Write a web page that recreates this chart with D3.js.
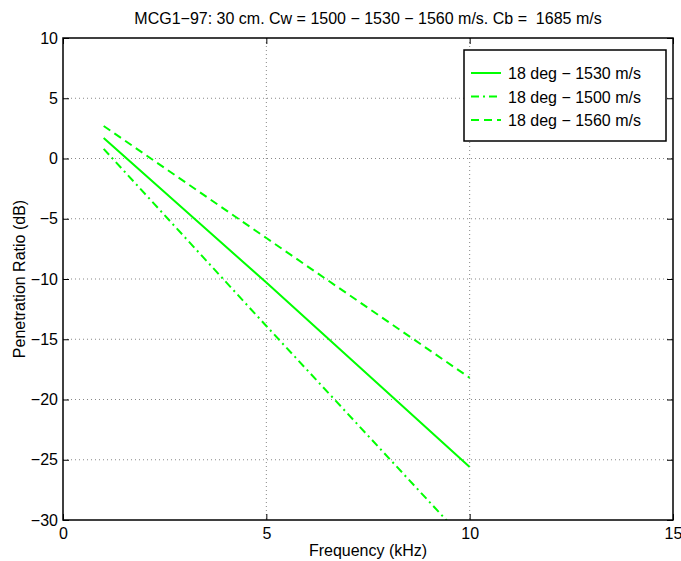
<!DOCTYPE html>
<html>
<head>
<meta charset="utf-8">
<script src="https://cdn.jsdelivr.net/npm/d3@7"></script>
<style>
  body { margin: 0; background: #fff; }
  svg text { font-family: "Liberation Sans", Arial, sans-serif; fill: #000; }
</style>
</head>
<body>
<div id="chart"></div>
<script>
(function () {

    var TITLE   = "MCG1\u221297: 30 cm. Cw = 1500 \u2212 1530 \u2212 1560 m/s. Cb =  1685 m/s";
    var X_LABEL = "Frequency (kHz)";
    var Y_LABEL = "Penetration Ratio (dB)";

    var X_TICKS = [0, 5, 10, 15];
    var Y_TICKS = [-30, -25, -20, -15, -10, -5, 0, 5, 10];

    // frequency (kHz) and penetration ratio (dB)
    var FREQ     = [1, 5, 10];
    var PR_1530  = [1.7, -10.3, -25.6];
    var PR_1500  = [0.8, -13.9, -32.1];
    var PR_1560  = [2.7, -6.6, -18.2];

    var SERIES = [
        { label: "18 deg \u2212 1530 m/s", values: PR_1530, dash: null },
        { label: "18 deg \u2212 1500 m/s", values: PR_1500, dash: "8,4,2,4" },
        { label: "18 deg \u2212 1560 m/s", values: PR_1560, dash: "8,5" }
    ];

    var W = 681, H = 561;
    var margin = { top: 38, right: 8, bottom: 41, left: 63 };
    var iW = W - margin.left - margin.right;
    var iH = H - margin.top - margin.bottom;

    var svg = d3.select("#chart").append("svg")
        .attr("width", W).attr("height", H);

    var g = svg.append("g")
        .attr("transform", "translate(" + margin.left + "," + margin.top + ")");

    var x = d3.scaleLinear().domain([0, 15]).range([0, iW]);
    var y = d3.scaleLinear().domain([-30, 10]).range([iH, 0]);

    g.append("defs").append("clipPath").attr("id", "clip")
        .append("rect").attr("width", iW).attr("height", iH);

    /* grid */
    var grid = g.append("g").attr("class", "grid");
    grid.selectAll(".gx").data(X_TICKS.slice(1, -1)).enter().append("line")
        .attr("x1", x).attr("x2", x).attr("y1", 0).attr("y2", iH);
    grid.selectAll(".gy").data(Y_TICKS.slice(1, -1)).enter().append("line")
        .attr("y1", y).attr("y2", y).attr("x1", 0).attr("x2", iW);
    grid.selectAll("line")
        .attr("stroke", "#888").attr("stroke-width", 1)
        .attr("stroke-dasharray", "1,3");

    /* lines */
    var line = d3.line()
        .x(function (d, i) { return x(FREQ[i]); })
        .y(function (d) { return y(d); });

    SERIES.forEach(function (s) {
        g.append("path")
            .attr("clip-path", "url(#clip)")
            .attr("d", line(s.values))
            .attr("fill", "none")
            .attr("stroke", "#00ff00")
            .attr("stroke-width", 2)
            .attr("stroke-dasharray", s.dash);
    });

    /* axes (box with inward ticks) */
    function styleAxis(sel) {
        sel.select(".domain").remove();
        sel.selectAll("line").attr("stroke", "#000");
        sel.selectAll("text").style("font-size", "16px");
    }
    g.append("g").attr("transform", "translate(0," + iH + ")")
        .call(d3.axisBottom(x).tickValues(X_TICKS).tickSize(-6).tickPadding(8))
        .call(styleAxis);
    g.append("g")
        .call(d3.axisTop(x).tickValues(X_TICKS).tickSize(-6).tickFormat(""))
        .call(styleAxis);
    g.append("g")
        .call(d3.axisLeft(y).tickValues(Y_TICKS).tickSize(-6).tickPadding(5)
            .tickFormat(function (v) { return String(v).replace("-", "\u2212"); }))
        .call(styleAxis);
    g.append("g").attr("transform", "translate(" + iW + ",0)")
        .call(d3.axisRight(y).tickValues(Y_TICKS).tickSize(-6).tickFormat(""))
        .call(styleAxis);

    g.append("rect")
        .attr("width", iW).attr("height", iH)
        .attr("fill", "none").attr("stroke", "#000").attr("stroke-width", 1.5);

    /* texts */
    svg.append("text")
        .attr("x", margin.left + iW / 2).attr("y", 24)
        .attr("text-anchor", "middle").style("font-size", "16px")
        .style("white-space", "pre")
        .text(TITLE);
    svg.append("text")
        .attr("x", margin.left + iW / 2).attr("y", 556)
        .attr("text-anchor", "middle").style("font-size", "16px")
        .text(X_LABEL);
    svg.append("text")
        .attr("transform", "translate(25," + (margin.top + iH / 2) + ") rotate(-90)")
        .attr("text-anchor", "middle").style("font-size", "16px")
        .text(Y_LABEL);

    /* legend */
    var lg = g.append("g").attr("transform", "translate(" + (464 - margin.left) + "," + (50 - margin.top) + ")");
    lg.append("rect")
        .attr("width", 202).attr("height", 91)
        .attr("fill", "#fff").attr("stroke", "#000").attr("stroke-width", 1.5);
    SERIES.forEach(function (s, i) {
        var ly = 23 + i * 23.5;
        lg.append("line")
            .attr("x1", 7).attr("x2", 37).attr("y1", ly).attr("y2", ly)
            .attr("stroke", "#00ff00").attr("stroke-width", 2)
            .attr("stroke-dasharray", s.dash);
        lg.append("text")
            .attr("x", 44).attr("y", ly + 6)
            .style("font-size", "16px")
            .text(s.label);
    });

}());
</script>
</body>
</html>
